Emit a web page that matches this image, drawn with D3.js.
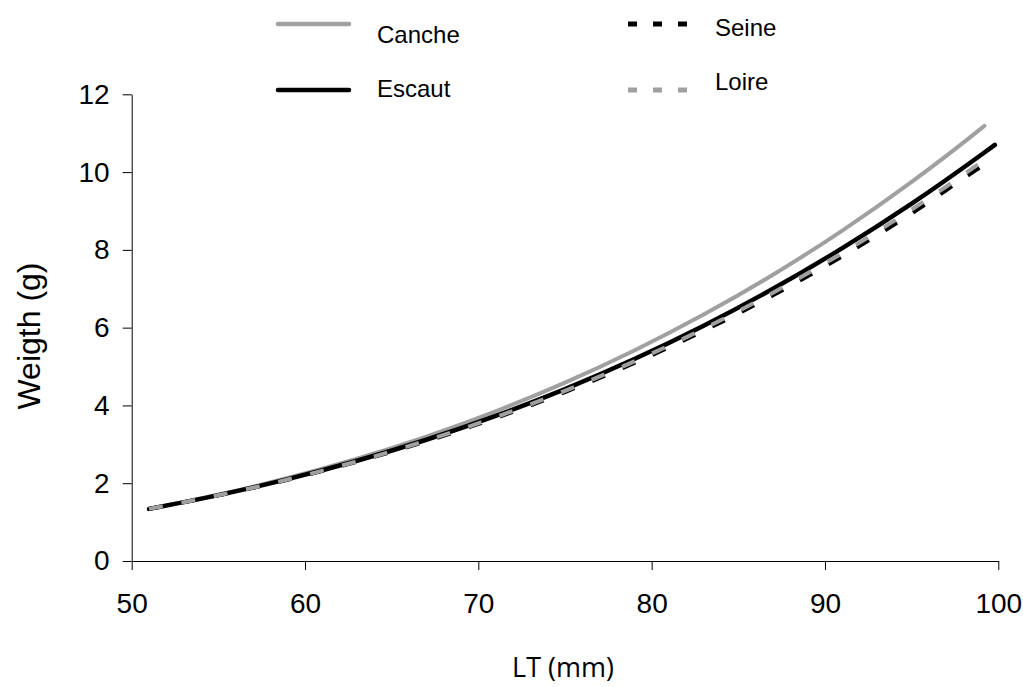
<!DOCTYPE html>
<html>
<head>
<meta charset="utf-8">
<script src="https://cdn.jsdelivr.net/npm/d3@7"></script>
<style>
  html, body { margin: 0; padding: 0; background: #fff; }
  svg { display: block; }
  text { font-family: "Liberation Sans", Arial, sans-serif; fill: #000; }
</style>
</head>
<body>
<svg id="chart" width="1023" height="687"></svg>
<script>
// ---- Data ----
const xTicks = [50, 60, 70, 80, 90, 100];
const yTicks = [0, 2, 4, 6, 8, 10, 12];

const canche = [
  [51, 1.34], [55, 1.705], [59, 2.133], [63, 2.630], [67, 3.200], [71, 3.850],
  [75, 4.586], [79, 5.413], [83, 6.336], [87, 7.361], [91, 8.497], [95, 9.748],
  [99, 11.118], [99.2, 11.19]
];
const escaut = [
  [51, 1.34], [55, 1.693], [59, 2.104], [63, 2.577], [67, 3.118], [71, 3.731],
  [75, 4.421], [79, 5.192], [83, 6.050], [87, 6.999], [91, 8.044], [95, 9.189],
  [99, 10.440], [99.8, 10.70]
];
const seine = [
  [51, 1.34], [55, 1.687], [59, 2.090], [63, 2.553], [67, 3.080], [71, 3.676],
  [75, 4.345], [79, 5.091], [83, 5.919], [87, 6.832], [91, 7.837], [95, 8.936],
  [99, 10.132], [99.1, 10.16]
];
const loire = [
  [51, 1.34], [55, 1.689], [59, 2.095], [63, 2.562], [67, 3.095], [71, 3.698],
  [75, 4.375], [79, 5.131], [83, 5.971], [87, 6.899], [91, 7.918], [95, 9.036],
  [99, 10.254], [99.6, 10.45]
];

const seriesNames = ["Canche", "Escaut", "Seine", "Loire"];

// ---- Drawing ----
const svg = d3.select("#chart");
const x = d3.scaleLinear().domain([50, 100]).range([131.7, 998.3]);
const y = d3.scaleLinear().domain([0, 12]).range([561, 94.3]);

const styles = {
  Canche: { color: "#a0a0a0", width: 4, dash: null },
  Escaut: { color: "#000000", width: 4.5, dash: null },
  Seine:  { color: "#000000", width: 4, dash: "14,19" },
  Loire:  { color: "#a0a0a0", width: 4, dash: "14,19" }
};
const dataByName = { Canche: canche, Escaut: escaut, Seine: seine, Loire: loire };

// Axes
const xAxis = d3.axisBottom(x).tickValues(xTicks).tickSize(9).tickSizeOuter(0).tickPadding(23);
const yAxis = d3.axisLeft(y).tickValues(yTicks).tickSize(9).tickSizeOuter(0).tickPadding(13);

const gx = svg.append("g").attr("transform", `translate(0,${y(0)})`).call(xAxis);
const gy = svg.append("g").attr("transform", `translate(${x(50)},0)`).call(yAxis);
[gx, gy].forEach(g => {
  g.select(".domain").attr("stroke", "#000").attr("stroke-width", 1);
  g.selectAll(".tick line").attr("stroke", "#000").attr("stroke-width", 1);
  g.selectAll(".tick text").style("font-family", "'Liberation Sans', Arial, sans-serif")
    .style("font-size", "28px").attr("fill", "#000");
});
gx.selectAll(".tick text").attr("dy", "0.71em");

// Lines
const line = d3.line().x(d => x(d[0])).y(d => y(d[1])).curve(d3.curveMonotoneX);
seriesNames.forEach(name => {
  const s = styles[name];
  const p = svg.append("path")
    .datum(dataByName[name])
    .attr("fill", "none")
    .attr("stroke", s.color)
    .attr("stroke-width", s.width)
    .attr("stroke-linecap", "round")
    .attr("d", line);
  if (s.dash) p.attr("stroke-dasharray", s.dash).attr("stroke-linecap", "butt");
});

// Axis titles
svg.append("text")
  .attr("x", 563).attr("y", 677)
  .attr("text-anchor", "middle")
  .style("font-family", "'Open Sans', sans-serif")
  .style("font-size", "27px")
  .text("LT (mm)");

svg.append("text")
  .attr("transform", "translate(29,336) rotate(-90)")
  .attr("text-anchor", "middle")
  .attr("dy", "0.35em")
  .style("font-size", "32px")
  .text("Weigth (g)");

// Legend
const legend = [
  { name: "Canche", x1: 278, x2: 349, ly: 24, tx: 377, ty: 35 },
  { name: "Escaut", x1: 278, x2: 349, ly: 90, tx: 377, ty: 89 },
  { name: "Seine",  x1: 628, x2: 688, ly: 24, tx: 715, ty: 28 },
  { name: "Loire",  x1: 628, x2: 688, ly: 90, tx: 715, ty: 82 }
];
legend.forEach(l => {
  const s = styles[l.name];
  const p = svg.append("line")
    .attr("x1", l.x1).attr("x2", l.x2).attr("y1", l.ly).attr("y2", l.ly)
    .attr("stroke", s.color).attr("stroke-width", s.dash ? 5 : 4.5)
    .attr("stroke-linecap", s.dash ? "butt" : "round");
  if (s.dash) p.attr("stroke-dasharray", "9,16");
  svg.append("text")
    .attr("x", l.tx).attr("y", l.ty)
    .attr("dy", "0.35em")
    .style("font-size", "24px")
    .text(l.name);
});
</script>
</body>
</html>
